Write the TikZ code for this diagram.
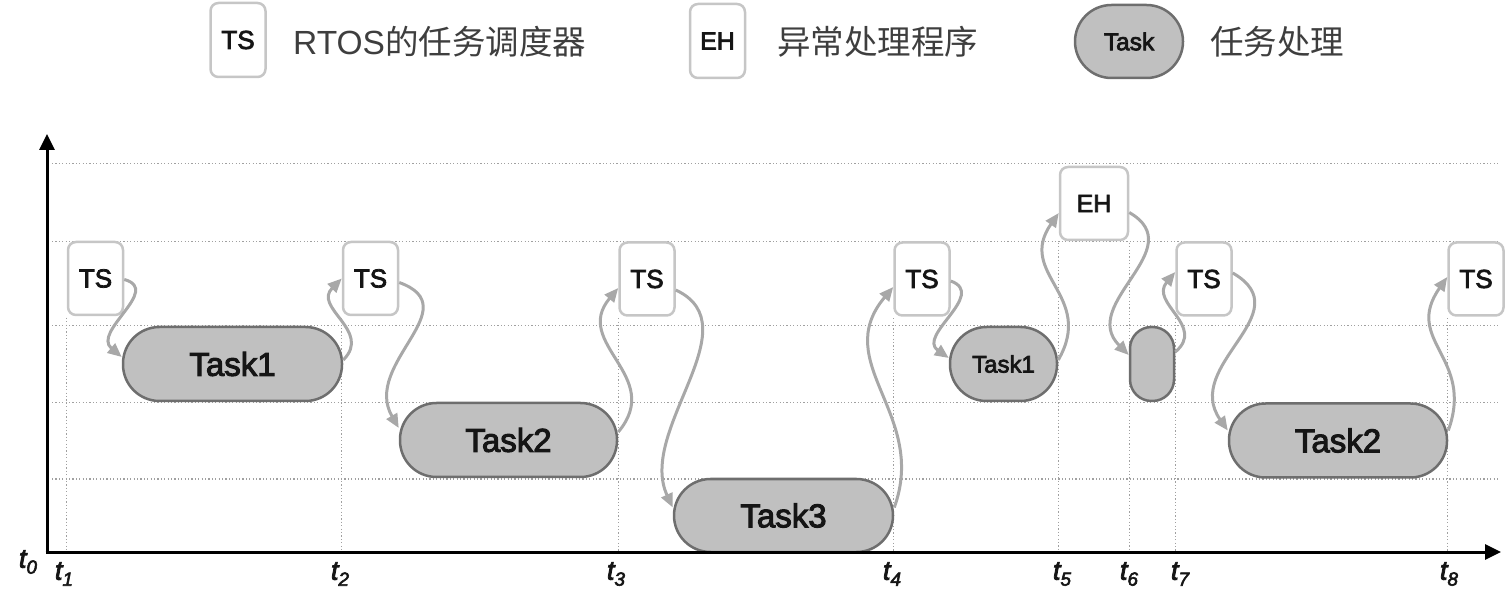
\documentclass[tikz,border=0pt]{standalone}
\usepackage{fontspec}
\setmainfont{Liberation Sans}
\newfontfamily\cjk{Noto Sans CJK SC}
\newfontfamily\boxfont[FakeBold=3]{Liberation Sans}
\usetikzlibrary{arrows.meta}
\definecolor{tsborder}{HTML}{C6C6C6}
\definecolor{taskfill}{HTML}{C0C0C0}
\definecolor{taskborder}{HTML}{6E6E6E}
\definecolor{conncol}{HTML}{A8A8A8}
\definecolor{gridc}{HTML}{A0A0A0}
\definecolor{txt}{HTML}{151515}
\definecolor{legtxt}{HTML}{3E3E3E}
\newcommand\tlabel[1]{t\raisebox{-6pt}{\fontsize{19}{20}\selectfont #1}}
\begin{document}
\begin{tikzpicture}[x=1pt,y=1pt,
  tsbox/.style={draw=tsborder, line width=2.5pt, fill=white, rounded corners=8pt,
    minimum width=55pt, minimum height=73pt, inner sep=0pt, text=txt,
    font=\boxfont\fontsize{26}{30}\selectfont},
  taskbox/.style={draw=taskborder, line width=2.5pt, fill=taskfill, rounded corners=36.5pt,
    minimum height=74pt, inner sep=0pt, text=txt, font=\boxfont\fontsize{33}{38}\selectfont},
  conn/.style={draw=conncol, line width=3pt, -{Triangle[length=14pt,width=12pt]}, looseness=1.3},
  gridline/.style={draw=gridc, line width=1pt, dash pattern=on 1.2pt off 2.2pt},
  axisline/.style={draw=black, line width=3pt, -{Triangle[length=16pt,width=15pt]}},
  tlab/.style={font=\boxfont\fontsize{27}{30}\selectfont\itshape, text=txt, inner sep=0pt},
  legtext/.style={font=\fontsize{33.5}{38}\selectfont, text=legtxt, inner sep=0pt, anchor=west},
]
\useasboundingbox (0,0) rectangle (1507,600);

% legend
\node[tsbox, minimum height=74pt] (lts) at (238,560) {TS};
\node[legtext] (ltstext) at (293,558) {RTOS{\cjk 的任务调度器}};
\node[tsbox, minimum height=74pt, font=\boxfont\fontsize{25}{30}\selectfont] (leh) at (717.5,559) {EH};
\node[legtext] (lehtext) at (777,558) {\cjk 异常处理程序};
\node[taskbox, minimum width=108pt, minimum height=73pt, font=\boxfont\fontsize{24.5}{28}\selectfont] (ltask) at (1129,558.5) {Task};
\node[legtext] (ltasktext) at (1210,558) {\cjk 任务处理};

% axes coordinates
\coordinate (origin) at (47,48);
\coordinate (ytip) at (47,466);
\coordinate (xtip) at (1501,48);

% horizontal grid
\foreach \yy/\nm in {436/ga,358/gb,274/gc,197/gd,121/ge}{
  \coordinate (\nm l) at (52,\yy);
  \coordinate (\nm r) at (1500,\yy);
  \draw[gridline] (\nm l) -- (\nm r);
}

% boxes
\node[tsbox] (ts1) at (95.5,321.5) {TS};
\node[tsbox] (ts2) at (370.5,321.5) {TS};
\node[tsbox] (ts3) at (647,321) {TS};
\node[tsbox] (ts4) at (922,321) {TS};
\node[tsbox] (ts5) at (1204,321) {TS};
\node[tsbox] (ts6) at (1476,321) {TS};
\node[tsbox, minimum width=68pt, font=\boxfont\fontsize{25}{30}\selectfont] (eh) at (1094,396.5) {EH};

% vertical grid lines
\foreach \nd/\an in {ts1/south west,ts2/south west,ts3/south west,ts4/south west,eh/south west,eh/south east,ts5/south west,ts6/south west}{
  \draw[gridline] ([yshift=-1.5pt]\nd.\an) -- (\nd.\an |- origin);
}

% tasks
\node[taskbox, minimum width=219pt] (task1) at (232.5,236) {Task1};
\node[taskbox, minimum width=217pt] (task2) at (508.5,160) {Task2};
\node[taskbox, minimum width=219pt, minimum height=73pt] (task3) at (783.5,84.5) {Task3};
\node[taskbox, minimum width=107pt, font=\boxfont\fontsize{24}{28}\selectfont] (task1b) at (1003.5,236) {Task1};
\node[taskbox, minimum width=44pt, rounded corners=21.5pt] (taskx) at (1152,236) {};
\node[taskbox, minimum width=218pt] (task2b) at (1338,159.5) {Task2};

% axes
\draw[axisline] (origin) -- (ytip);
\draw[axisline] ([xshift=-1.5pt]origin) -- (xtip);

% connectors
\draw[conn] ([yshift=-1pt]ts1.east) to[out=-15,in=140] ([yshift=7pt]task1.west);
\draw[conn] ([yshift=4pt]task1.east) to[out=45,in=-135] ([yshift=0pt]ts2.west);
\draw[conn] ([yshift=-4pt]ts2.east) to[out=-20,in=120] ([yshift=12pt]task2.west);
\draw[conn] ([yshift=8pt]task2.east) to[out=50,in=-130] ([yshift=-9pt]ts3.west);
\draw[conn, looseness=1.0] ([yshift=-11pt]ts3.east) to[out=-25,in=115] ([yshift=8pt]task3.west);
\draw[conn, looseness=1.15] ([yshift=8pt]task3.east) to[out=70,in=-130] ([yshift=-8pt]ts4.west);
\draw[conn] ([yshift=-2pt]ts4.east) to[out=-20,in=145] ([yshift=6pt]task1b.west);
\draw[conn] ([yshift=4pt]task1b.east) to[out=60,in=-125] ([yshift=-9.5pt]eh.west);
\draw[conn] ([yshift=-9pt]eh.east) to[out=-30,in=135] ([yshift=9pt]taskx.west);
\draw[conn] ([yshift=12pt]taskx.east) to[out=40,in=-130] ([yshift=7pt]ts5.west);
\draw[conn] ([yshift=6pt]ts5.east) to[out=-30,in=125] ([yshift=10pt]task2b.west);
\draw[conn] ([yshift=10pt]task2b.east) to[out=70,in=-125] ([yshift=2pt]ts6.west);

% time labels
\node[tlab] (t0) at (28,38) {\tlabel{0}};
\node[tlab] (t1) at (64,26) {\tlabel{1}};
\node[tlab] (t2) at (340,26) {\tlabel{2}};
\node[tlab] (t3) at (616,26) {\tlabel{3}};
\node[tlab] (t4) at (892,26) {\tlabel{4}};
\node[tlab] (t5) at (1062,26) {\tlabel{5}};
\node[tlab] (t6) at (1129,26) {\tlabel{6}};
\node[tlab] (t7) at (1180,26) {\tlabel{7}};
\node[tlab] (t8) at (1449,26) {\tlabel{8}};
\end{tikzpicture}
\end{document}
